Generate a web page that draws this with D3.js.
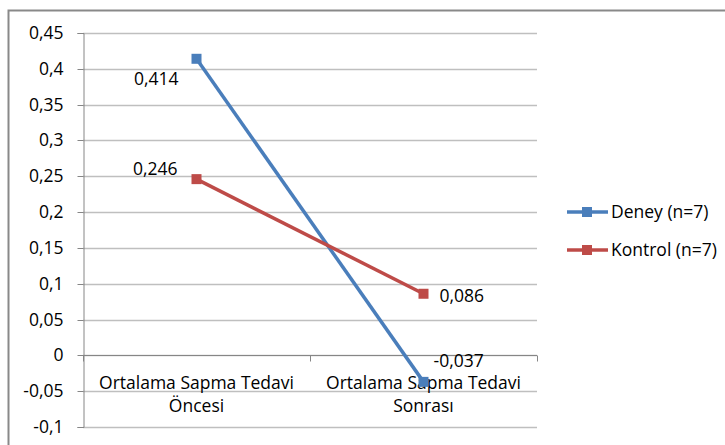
<!DOCTYPE html>
<html>
<head>
<meta charset="utf-8">
<script src="https://cdn.jsdelivr.net/npm/d3@7"></script>
<style>
  body { margin: 0; background: #fff; }
  svg text { font-family: "Open Sans", sans-serif; fill: #000; }
</style>
</head>
<body>
<svg id="chart" width="725" height="445"></svg>
<script>
// Line chart: mean deviation before / after treatment
const categories = [['Ortalama Sapma Tedavi', 'Öncesi'], ['Ortalama Sapma Tedavi', 'Sonrası']];
const seriesNames = ['Deney (n=7)', 'Kontrol (n=7)'];
const deneyValues = [0.414, -0.037];
const kontrolValues = [0.246, 0.086];
const deneyLabels = ['0,414', '-0,037'];
const kontrolLabels = ['0,246', '0,086'];
const yTicks = [-0.1, -0.05, 0, 0.05, 0.1, 0.15, 0.2, 0.25, 0.3, 0.35, 0.4, 0.45];
const colors = ['#4a7ebb', '#be4b48'];

const svg = d3.select('#chart');
const plotLeft = 83, plotRight = 537, plotTop = 33, plotBottom = 427;
const fontSize = '17.5px';

const y = d3.scaleLinear().domain([-0.1, 0.45]).range([plotBottom, plotTop]);
const x = d3.scaleBand().domain([0, 1]).range([plotLeft, plotRight]);
const cx = i => x(i) + x.bandwidth() / 2;

// outer border (only top and left visible)
svg.append('path')
  .attr('d', `M8.5,445 L8.5,10.5 L725,10.5`)
  .attr('fill', 'none')
  .attr('stroke', '#898989')
  .attr('stroke-width', 2);

// gridlines
svg.append('g')
  .selectAll('line')
  .data(yTicks)
  .join('line')
  .attr('x1', plotLeft)
  .attr('x2', plotRight)
  .attr('y1', d => Math.round(y(d)) + 0.5)
  .attr('y2', d => Math.round(y(d)) + 0.5)
  .attr('stroke', '#bfbfbf')
  .attr('stroke-width', 1.3);

// y axis
const fmt = d => String(+d.toFixed(2)).replace('.', ',');
const yAxis = svg.append('g')
  .attr('transform', `translate(${plotLeft + 0.5},0)`)
  .call(d3.axisLeft(y).tickValues(yTicks).tickSize(6).tickPadding(14).tickFormat(fmt));
yAxis.select('.domain').attr('stroke', '#868686');
yAxis.selectAll('.tick line').attr('stroke', '#868686');
yAxis.selectAll('.tick text').attr('font-size', fontSize).attr('fill', '#000');
yAxis.selectAll('.tick').attr('transform', d => `translate(0,${Math.round(y(d)) + 0.5})`);

// category axis at zero
const zeroY = Math.round(y(0)) + 0.5;
svg.append('line')
  .attr('x1', plotLeft).attr('x2', plotRight)
  .attr('y1', zeroY).attr('y2', zeroY)
  .attr('stroke', '#868686');
[plotLeft, x(1), plotRight].forEach(v => {
  svg.append('line')
    .attr('x1', Math.round(v) + 0.5).attr('x2', Math.round(v) + 0.5)
    .attr('y1', zeroY).attr('y2', zeroY + 6)
    .attr('stroke', '#868686');
});

// category labels
categories.forEach((lines, i) => {
  const t = svg.append('text')
    .attr('x', cx(i))
    .attr('y', 389)
    .attr('text-anchor', 'middle')
    .attr('font-size', fontSize);
  lines.forEach((s, j) => {
    t.append('tspan').attr('x', cx(i)).attr('dy', j === 0 ? 0 : 23).text(s);
  });
});

// series
const series = [deneyValues, kontrolValues];
const line = d3.line().x((d, i) => cx(i)).y(d => y(d));
series.forEach((vals, s) => {
  svg.append('path')
    .datum(vals)
    .attr('d', line)
    .attr('fill', 'none')
    .attr('stroke', colors[s])
    .attr('stroke-width', 3.5);
  svg.append('g')
    .selectAll('rect')
    .data(vals)
    .join('rect')
    .attr('x', (d, i) => cx(i) - 5)
    .attr('y', d => y(d) - 5)
    .attr('width', 10)
    .attr('height', 10)
    .attr('fill', colors[s]);
});

// data labels: left point labels end-anchored, right point labels start-anchored
const labelPos = [
  [{ dx: -18, dy: 26 }, { dx: 10, dy: -15 }],
  [{ dx: -19, dy: -4 }, { dx: 16, dy: 8 }]
];
[deneyLabels, kontrolLabels].forEach((labels, s) => {
  labels.forEach((txt, i) => {
    svg.append('text')
      .attr('x', cx(i) + labelPos[s][i].dx)
      .attr('y', y(series[s][i]) + labelPos[s][i].dy)
      .attr('text-anchor', i === 0 ? 'end' : 'start')
      .attr('font-size', fontSize)
      .text(txt);
  });
});

// legend
seriesNames.forEach((name, s) => {
  const ly = 212 + s * 38;
  svg.append('line')
    .attr('x1', 567).attr('x2', 608)
    .attr('y1', ly).attr('y2', ly)
    .attr('stroke', colors[s])
    .attr('stroke-width', 3.5);
  svg.append('rect')
    .attr('x', 582).attr('y', ly - 5)
    .attr('width', 10).attr('height', 10)
    .attr('fill', colors[s]);
  svg.append('text')
    .attr('x', 611)
    .attr('y', ly + 6)
    .attr('font-size', fontSize)
    .text(name);
});
</script>
</body>
</html>
